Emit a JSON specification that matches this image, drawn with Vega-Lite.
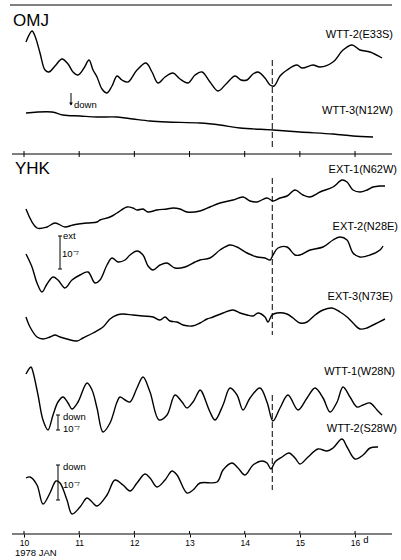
{
  "$schema": "https://vega.github.io/schema/vega-lite/v6.json",
  "width": 401,
  "height": 534,
  "autosize": {"type": "none"},
  "padding": {"left": 0, "top": 0, "right": 0, "bottom": 26},
  "background": "white",
  "config": {"view": {"stroke": null}},
  "datasets": {
    "tr": [
      {"s":"OMJ WTT-2","d":10.036,"v":492},{"s":"OMJ WTT-2","d":10.145,"v":503},{"s":"OMJ WTT-2","d":10.199,"v":498},{"s":"OMJ WTT-2","d":10.290,"v":481},{"s":"OMJ WTT-2","d":10.381,"v":464},{"s":"OMJ WTT-2","d":10.453,"v":462},{"s":"OMJ WTT-2","d":10.562,"v":468},{"s":"OMJ WTT-2","d":10.689,"v":475},{"s":"OMJ WTT-2","d":10.798,"v":470},{"s":"OMJ WTT-2","d":10.888,"v":462},{"s":"OMJ WTT-2","d":10.979,"v":459},{"s":"OMJ WTT-2","d":11.088,"v":466},{"s":"OMJ WTT-2","d":11.178,"v":474},{"s":"OMJ WTT-2","d":11.251,"v":464},{"s":"OMJ WTT-2","d":11.323,"v":457},{"s":"OMJ WTT-2","d":11.414,"v":445},{"s":"OMJ WTT-2","d":11.504,"v":441},{"s":"OMJ WTT-2","d":11.595,"v":448},{"s":"OMJ WTT-2","d":11.686,"v":458},{"s":"OMJ WTT-2","d":11.776,"v":454},{"s":"OMJ WTT-2","d":11.885,"v":452},{"s":"OMJ WTT-2","d":12.048,"v":464},{"s":"OMJ WTT-2","d":12.211,"v":471},{"s":"OMJ WTT-2","d":12.320,"v":462},{"s":"OMJ WTT-2","d":12.429,"v":451},{"s":"OMJ WTT-2","d":12.556,"v":457},{"s":"OMJ WTT-2","d":12.701,"v":461},{"s":"OMJ WTT-2","d":12.828,"v":455},{"s":"OMJ WTT-2","d":12.973,"v":451},{"s":"OMJ WTT-2","d":13.100,"v":459},{"s":"OMJ WTT-2","d":13.226,"v":462},{"s":"OMJ WTT-2","d":13.371,"v":452},{"s":"OMJ WTT-2","d":13.516,"v":443},{"s":"OMJ WTT-2","d":13.662,"v":450},{"s":"OMJ WTT-2","d":13.825,"v":458},{"s":"OMJ WTT-2","d":13.933,"v":454},{"s":"OMJ WTT-2","d":14.042,"v":454},{"s":"OMJ WTT-2","d":14.151,"v":460},{"s":"OMJ WTT-2","d":14.242,"v":462},{"s":"OMJ WTT-2","d":14.368,"v":456},{"s":"OMJ WTT-2","d":14.459,"v":449},{"s":"OMJ WTT-2","d":14.532,"v":448},{"s":"OMJ WTT-2","d":14.640,"v":458},{"s":"OMJ WTT-2","d":14.767,"v":464},{"s":"OMJ WTT-2","d":14.948,"v":469},{"s":"OMJ WTT-2","d":15.039,"v":466},{"s":"OMJ WTT-2","d":15.238,"v":469},{"s":"OMJ WTT-2","d":15.365,"v":467},{"s":"OMJ WTT-2","d":15.601,"v":472},{"s":"OMJ WTT-2","d":15.782,"v":484},{"s":"OMJ WTT-2","d":15.945,"v":489},{"s":"OMJ WTT-2","d":16.090,"v":484},{"s":"OMJ WTT-2","d":16.272,"v":482},{"s":"OMJ WTT-2","d":16.489,"v":476},
      {"s":"OMJ WTT-3","d":10.036,"v":421},{"s":"OMJ WTT-3","d":10.508,"v":422},{"s":"OMJ WTT-3","d":10.707,"v":419},{"s":"OMJ WTT-3","d":11.015,"v":418},{"s":"OMJ WTT-3","d":11.323,"v":417},{"s":"OMJ WTT-3","d":11.686,"v":417},{"s":"OMJ WTT-3","d":11.976,"v":415},{"s":"OMJ WTT-3","d":12.284,"v":413},{"s":"OMJ WTT-3","d":12.592,"v":412},{"s":"OMJ WTT-3","d":13.190,"v":411},{"s":"OMJ WTT-3","d":13.553,"v":409},{"s":"OMJ WTT-3","d":13.915,"v":406},{"s":"OMJ WTT-3","d":14.513,"v":404},{"s":"OMJ WTT-3","d":15.003,"v":402},{"s":"OMJ WTT-3","d":15.601,"v":400},{"s":"OMJ WTT-3","d":15.963,"v":398},{"s":"OMJ WTT-3","d":16.326,"v":397},
      {"s":"EXT-1","d":10.036,"v":325},{"s":"EXT-1","d":10.236,"v":306},{"s":"EXT-1","d":10.417,"v":307},{"s":"EXT-1","d":10.562,"v":311},{"s":"EXT-1","d":10.743,"v":307},{"s":"EXT-1","d":10.888,"v":309},{"s":"EXT-1","d":11.142,"v":311},{"s":"EXT-1","d":11.323,"v":312},{"s":"EXT-1","d":11.378,"v":314},{"s":"EXT-1","d":11.559,"v":317},{"s":"EXT-1","d":11.686,"v":321},{"s":"EXT-1","d":11.867,"v":327},{"s":"EXT-1","d":11.976,"v":326},{"s":"EXT-1","d":12.048,"v":324},{"s":"EXT-1","d":12.157,"v":325},{"s":"EXT-1","d":12.248,"v":322},{"s":"EXT-1","d":12.411,"v":324},{"s":"EXT-1","d":12.592,"v":325},{"s":"EXT-1","d":12.701,"v":326},{"s":"EXT-1","d":12.828,"v":325},{"s":"EXT-1","d":12.955,"v":322},{"s":"EXT-1","d":13.190,"v":323},{"s":"EXT-1","d":13.371,"v":327},{"s":"EXT-1","d":13.553,"v":331},{"s":"EXT-1","d":13.788,"v":334},{"s":"EXT-1","d":13.970,"v":337},{"s":"EXT-1","d":14.097,"v":333},{"s":"EXT-1","d":14.223,"v":332},{"s":"EXT-1","d":14.404,"v":336},{"s":"EXT-1","d":14.513,"v":333},{"s":"EXT-1","d":14.640,"v":336},{"s":"EXT-1","d":14.767,"v":338},{"s":"EXT-1","d":14.912,"v":344},{"s":"EXT-1","d":15.057,"v":339},{"s":"EXT-1","d":15.184,"v":337},{"s":"EXT-1","d":15.365,"v":342},{"s":"EXT-1","d":15.601,"v":347},{"s":"EXT-1","d":15.764,"v":354},{"s":"EXT-1","d":15.855,"v":352},{"s":"EXT-1","d":15.963,"v":344},{"s":"EXT-1","d":16.090,"v":342},{"s":"EXT-1","d":16.217,"v":344},{"s":"EXT-1","d":16.326,"v":347},{"s":"EXT-1","d":16.453,"v":348},{"s":"EXT-1","d":16.543,"v":348},
      {"s":"EXT-2","d":10.036,"v":280},{"s":"EXT-2","d":10.145,"v":267},{"s":"EXT-2","d":10.236,"v":251},{"s":"EXT-2","d":10.326,"v":242},{"s":"EXT-2","d":10.417,"v":250},{"s":"EXT-2","d":10.526,"v":257},{"s":"EXT-2","d":10.616,"v":254},{"s":"EXT-2","d":10.743,"v":246},{"s":"EXT-2","d":10.870,"v":254},{"s":"EXT-2","d":11.015,"v":259},{"s":"EXT-2","d":11.160,"v":262},{"s":"EXT-2","d":11.287,"v":251},{"s":"EXT-2","d":11.378,"v":254},{"s":"EXT-2","d":11.504,"v":269},{"s":"EXT-2","d":11.595,"v":276},{"s":"EXT-2","d":11.704,"v":272},{"s":"EXT-2","d":11.831,"v":274},{"s":"EXT-2","d":11.921,"v":279},{"s":"EXT-2","d":12.048,"v":283},{"s":"EXT-2","d":12.157,"v":279},{"s":"EXT-2","d":12.248,"v":268},{"s":"EXT-2","d":12.338,"v":264},{"s":"EXT-2","d":12.465,"v":269},{"s":"EXT-2","d":12.592,"v":271},{"s":"EXT-2","d":12.737,"v":266},{"s":"EXT-2","d":12.918,"v":267},{"s":"EXT-2","d":13.100,"v":272},{"s":"EXT-2","d":13.190,"v":274},{"s":"EXT-2","d":13.371,"v":276},{"s":"EXT-2","d":13.553,"v":284},{"s":"EXT-2","d":13.734,"v":289},{"s":"EXT-2","d":13.861,"v":287},{"s":"EXT-2","d":14.042,"v":281},{"s":"EXT-2","d":14.223,"v":277},{"s":"EXT-2","d":14.368,"v":276},{"s":"EXT-2","d":14.459,"v":274},{"s":"EXT-2","d":14.513,"v":279},{"s":"EXT-2","d":14.604,"v":286},{"s":"EXT-2","d":14.767,"v":287},{"s":"EXT-2","d":14.912,"v":279},{"s":"EXT-2","d":15.003,"v":279},{"s":"EXT-2","d":15.184,"v":284},{"s":"EXT-2","d":15.420,"v":287},{"s":"EXT-2","d":15.601,"v":294},{"s":"EXT-2","d":15.728,"v":297},{"s":"EXT-2","d":15.855,"v":294},{"s":"EXT-2","d":15.963,"v":281},{"s":"EXT-2","d":16.090,"v":277},{"s":"EXT-2","d":16.272,"v":279},{"s":"EXT-2","d":16.453,"v":284},{"s":"EXT-2","d":16.507,"v":288},
      {"s":"EXT-3","d":10.036,"v":217},{"s":"EXT-3","d":10.109,"v":207},{"s":"EXT-3","d":10.236,"v":197},{"s":"EXT-3","d":10.344,"v":195},{"s":"EXT-3","d":10.471,"v":197},{"s":"EXT-3","d":10.562,"v":199},{"s":"EXT-3","d":10.653,"v":197},{"s":"EXT-3","d":10.779,"v":195},{"s":"EXT-3","d":10.961,"v":193},{"s":"EXT-3","d":11.069,"v":196},{"s":"EXT-3","d":11.251,"v":201},{"s":"EXT-3","d":11.432,"v":207},{"s":"EXT-3","d":11.559,"v":215},{"s":"EXT-3","d":11.686,"v":219},{"s":"EXT-3","d":11.794,"v":220},{"s":"EXT-3","d":11.976,"v":219},{"s":"EXT-3","d":12.157,"v":218},{"s":"EXT-3","d":12.338,"v":217},{"s":"EXT-3","d":12.465,"v":214},{"s":"EXT-3","d":12.556,"v":217},{"s":"EXT-3","d":12.646,"v":213},{"s":"EXT-3","d":12.773,"v":212},{"s":"EXT-3","d":12.882,"v":209},{"s":"EXT-3","d":13.045,"v":208},{"s":"EXT-3","d":13.190,"v":211},{"s":"EXT-3","d":13.317,"v":215},{"s":"EXT-3","d":13.426,"v":217},{"s":"EXT-3","d":13.607,"v":221},{"s":"EXT-3","d":13.788,"v":224},{"s":"EXT-3","d":13.915,"v":221},{"s":"EXT-3","d":14.042,"v":219},{"s":"EXT-3","d":14.151,"v":218},{"s":"EXT-3","d":14.242,"v":221},{"s":"EXT-3","d":14.368,"v":217},{"s":"EXT-3","d":14.422,"v":212},{"s":"EXT-3","d":14.495,"v":219},{"s":"EXT-3","d":14.586,"v":221},{"s":"EXT-3","d":14.767,"v":220},{"s":"EXT-3","d":14.876,"v":216},{"s":"EXT-3","d":15.003,"v":211},{"s":"EXT-3","d":15.130,"v":212},{"s":"EXT-3","d":15.275,"v":219},{"s":"EXT-3","d":15.420,"v":224},{"s":"EXT-3","d":15.583,"v":226},{"s":"EXT-3","d":15.728,"v":222},{"s":"EXT-3","d":15.855,"v":217},{"s":"EXT-3","d":15.963,"v":211},{"s":"EXT-3","d":16.090,"v":205},{"s":"EXT-3","d":16.217,"v":206},{"s":"EXT-3","d":16.326,"v":209},{"s":"EXT-3","d":16.543,"v":215},
      {"s":"WTT-1","d":10.036,"v":160},{"s":"WTT-1","d":10.127,"v":167},{"s":"WTT-1","d":10.163,"v":162},{"s":"WTT-1","d":10.254,"v":139},{"s":"WTT-1","d":10.344,"v":114},{"s":"WTT-1","d":10.435,"v":104},{"s":"WTT-1","d":10.526,"v":119},{"s":"WTT-1","d":10.616,"v":132},{"s":"WTT-1","d":10.707,"v":137},{"s":"WTT-1","d":10.798,"v":131},{"s":"WTT-1","d":10.870,"v":125},{"s":"WTT-1","d":10.979,"v":132},{"s":"WTT-1","d":11.142,"v":151},{"s":"WTT-1","d":11.233,"v":144},{"s":"WTT-1","d":11.323,"v":126},{"s":"WTT-1","d":11.432,"v":102},{"s":"WTT-1","d":11.559,"v":111},{"s":"WTT-1","d":11.686,"v":132},{"s":"WTT-1","d":11.740,"v":137},{"s":"WTT-1","d":11.831,"v":134},{"s":"WTT-1","d":11.921,"v":132},{"s":"WTT-1","d":12.048,"v":146},{"s":"WTT-1","d":12.157,"v":157},{"s":"WTT-1","d":12.284,"v":142},{"s":"WTT-1","d":12.447,"v":114},{"s":"WTT-1","d":12.592,"v":119},{"s":"WTT-1","d":12.737,"v":139},{"s":"WTT-1","d":12.864,"v":132},{"s":"WTT-1","d":12.955,"v":126},{"s":"WTT-1","d":13.063,"v":132},{"s":"WTT-1","d":13.190,"v":144},{"s":"WTT-1","d":13.226,"v":142},{"s":"WTT-1","d":13.371,"v":122},{"s":"WTT-1","d":13.462,"v":114},{"s":"WTT-1","d":13.607,"v":129},{"s":"WTT-1","d":13.734,"v":146},{"s":"WTT-1","d":13.861,"v":139},{"s":"WTT-1","d":13.970,"v":124},{"s":"WTT-1","d":14.097,"v":136},{"s":"WTT-1","d":14.278,"v":146},{"s":"WTT-1","d":14.404,"v":132},{"s":"WTT-1","d":14.513,"v":113},{"s":"WTT-1","d":14.640,"v":126},{"s":"WTT-1","d":14.785,"v":139},{"s":"WTT-1","d":14.966,"v":124},{"s":"WTT-1","d":15.130,"v":136},{"s":"WTT-1","d":15.275,"v":146},{"s":"WTT-1","d":15.420,"v":136},{"s":"WTT-1","d":15.547,"v":122},{"s":"WTT-1","d":15.674,"v":132},{"s":"WTT-1","d":15.782,"v":147},{"s":"WTT-1","d":15.909,"v":137},{"s":"WTT-1","d":16.036,"v":127},{"s":"WTT-1","d":16.145,"v":129},{"s":"WTT-1","d":16.272,"v":131},{"s":"WTT-1","d":16.398,"v":124},{"s":"WTT-1","d":16.489,"v":119},
      {"s":"WTT-2","d":10.036,"v":56},{"s":"WTT-2","d":10.109,"v":57},{"s":"WTT-2","d":10.236,"v":49},{"s":"WTT-2","d":10.344,"v":30},{"s":"WTT-2","d":10.471,"v":41},{"s":"WTT-2","d":10.580,"v":53},{"s":"WTT-2","d":10.653,"v":51},{"s":"WTT-2","d":10.779,"v":34},{"s":"WTT-2","d":10.870,"v":20},{"s":"WTT-2","d":11.015,"v":27},{"s":"WTT-2","d":11.142,"v":36},{"s":"WTT-2","d":11.233,"v":32},{"s":"WTT-2","d":11.323,"v":28},{"s":"WTT-2","d":11.504,"v":39},{"s":"WTT-2","d":11.649,"v":54},{"s":"WTT-2","d":11.794,"v":49},{"s":"WTT-2","d":11.921,"v":43},{"s":"WTT-2","d":12.048,"v":51},{"s":"WTT-2","d":12.193,"v":60},{"s":"WTT-2","d":12.284,"v":56},{"s":"WTT-2","d":12.411,"v":47},{"s":"WTT-2","d":12.556,"v":54},{"s":"WTT-2","d":12.683,"v":63},{"s":"WTT-2","d":12.773,"v":59},{"s":"WTT-2","d":12.955,"v":41},{"s":"WTT-2","d":13.063,"v":44},{"s":"WTT-2","d":13.190,"v":51},{"s":"WTT-2","d":13.498,"v":52},{"s":"WTT-2","d":13.607,"v":64},{"s":"WTT-2","d":13.770,"v":71},{"s":"WTT-2","d":13.879,"v":66},{"s":"WTT-2","d":14.006,"v":59},{"s":"WTT-2","d":14.151,"v":69},{"s":"WTT-2","d":14.314,"v":73},{"s":"WTT-2","d":14.404,"v":71},{"s":"WTT-2","d":14.477,"v":65},{"s":"WTT-2","d":14.550,"v":72},{"s":"WTT-2","d":14.676,"v":77},{"s":"WTT-2","d":14.803,"v":81},{"s":"WTT-2","d":14.912,"v":76},{"s":"WTT-2","d":15.003,"v":70},{"s":"WTT-2","d":15.148,"v":77},{"s":"WTT-2","d":15.329,"v":85},{"s":"WTT-2","d":15.492,"v":83},{"s":"WTT-2","d":15.601,"v":86},{"s":"WTT-2","d":15.764,"v":95},{"s":"WTT-2","d":15.855,"v":87},{"s":"WTT-2","d":16.000,"v":75},{"s":"WTT-2","d":16.145,"v":79},{"s":"WTT-2","d":16.272,"v":86},{"s":"WTT-2","d":16.417,"v":87}
    ],
    "seg": [
      {"d":9.746,"d2":16.670,"v":529,"v2":529},
      {"d":9.783,"d2":16.670,"v":380,"v2":380},
      {"d":9.783,"d2":16.670,"v":0,"v2":0},
      {"d":10,"d2":10,"v":377,"v2":383},{"d":11,"d2":11,"v":377,"v2":383},{"d":12,"d2":12,"v":377,"v2":383},{"d":13,"d2":13,"v":377,"v2":383},{"d":14,"d2":14,"v":377,"v2":383},{"d":15,"d2":15,"v":377,"v2":383},{"d":16,"d2":16,"v":377,"v2":383},
      {"d":10,"d2":10,"v":0,"v2":3},{"d":11,"d2":11,"v":0,"v2":3},{"d":12,"d2":12,"v":0,"v2":3},{"d":13,"d2":13,"v":0,"v2":3},{"d":14,"d2":14,"v":0,"v2":3},{"d":15,"d2":15,"v":0,"v2":3},{"d":16,"d2":16,"v":0,"v2":3},
      {"d":10.852,"d2":10.852,"v":441,"v2":429},
      {"d":10.653,"d2":10.653,"v":298,"v2":265},{"d":10.617,"d2":10.689,"v":298,"v2":298},{"d":10.617,"d2":10.689,"v":265,"v2":265},
      {"d":10.616,"d2":10.616,"v":119,"v2":104},{"d":10.580,"d2":10.653,"v":119,"v2":119},{"d":10.580,"d2":10.653,"v":104,"v2":104},
      {"d":10.616,"d2":10.616,"v":69,"v2":34},{"d":10.580,"d2":10.653,"v":69,"v2":69},{"d":10.580,"d2":10.653,"v":34,"v2":34}
    ],
    "dash": [
      {"d":14.5,"d2":14.5,"v":474,"v2":387},
      {"d":14.5,"d2":14.5,"v":356,"v2":199},
      {"d":14.5,"d2":14.5,"v":139,"v2":44}
    ],
    "station": [
      {"t":"OMJ","d":9.801,"v":513},
      {"t":"YHK","d":9.837,"v":365}
    ],
    "tlab": [
      {"t":"WTT-2(E33S)","d":16.688,"v":499},
      {"t":"WTT-3(N12W)","d":16.688,"v":423},
      {"t":"EXT-1(N62W)","d":16.761,"v":364},
      {"t":"EXT-2(N28E)","d":16.779,"v":307},
      {"t":"EXT-3(N73E)","d":16.688,"v":237},
      {"t":"WTT-1(W28N)","d":16.725,"v":162},
      {"t":"WTT-2(S28W)","d":16.761,"v":105}
    ],
    "small": [
      {"t":"down","d":10.906,"v":429},
      {"t":"ext","d":10.707,"v":298},
      {"t":"10⁻⁷","d":10.689,"v":280},
      {"t":"down","d":10.707,"v":117},
      {"t":"10⁻⁷","d":10.707,"v":105},
      {"t":"down","d":10.707,"v":67},
      {"t":"10⁻⁷","d":10.707,"v":49},
      {"t":"1978 JAN","d":9.837,"v":-19},
      {"t":"d","d":16.150,"v":-6}
    ],
    "arrow": [{"d":10.852,"v":430}]
  },
  "encoding": {
    "x": {"field": "d", "type": "quantitative",
      "scale": {"domain": [9.565, 16.833], "nice": false, "zero": false},
      "axis": {"values": [10, 11, 12, 13, 14, 15, 16], "format": "d", "domain": false, "grid": false,
        "ticks": true, "tickSize": 3, "tickColor": "black", "labelFontSize": 8.5, "labelFont": "Liberation Sans",
        "labelColor": "black", "labelPadding": 1, "title": null}},
    "y": {"field": "v", "type": "quantitative",
      "scale": {"domain": [0, 534], "nice": false, "zero": false}, "axis": null}
  },
  "layer": [
    {"data": {"name": "tr"},
     "mark": {"type": "line", "interpolate": "catmull-rom", "color": "black", "strokeWidth": 1.4},
     "encoding": {"detail": {"field": "s"}}},
    {"data": {"name": "seg"},
     "mark": {"type": "rule", "color": "black", "strokeWidth": 1},
     "encoding": {"x2": {"field": "d2"}, "y2": {"field": "v2"}}},
    {"data": {"name": "dash"},
     "mark": {"type": "rule", "color": "black", "strokeWidth": 1, "strokeDash": [6, 3]},
     "encoding": {"x2": {"field": "d2"}, "y2": {"field": "v2"}}},
    {"data": {"name": "arrow"},
     "mark": {"type": "point", "shape": "triangle-down", "filled": true, "color": "black", "size": 14, "opacity": 1}},
    {"data": {"name": "station"},
     "mark": {"type": "text", "align": "left", "baseline": "middle", "font": "Liberation Sans", "fontSize": 17, "color": "black"},
     "encoding": {"text": {"field": "t"}}},
    {"data": {"name": "tlab"},
     "mark": {"type": "text", "align": "right", "baseline": "middle", "font": "Liberation Sans", "fontSize": 11, "color": "black"},
     "encoding": {"text": {"field": "t"}}},
    {"data": {"name": "small"},
     "mark": {"type": "text", "align": "left", "baseline": "middle", "font": "Liberation Sans", "fontSize": 9.5, "color": "black"},
     "encoding": {"text": {"field": "t"}}}
  ]
}
